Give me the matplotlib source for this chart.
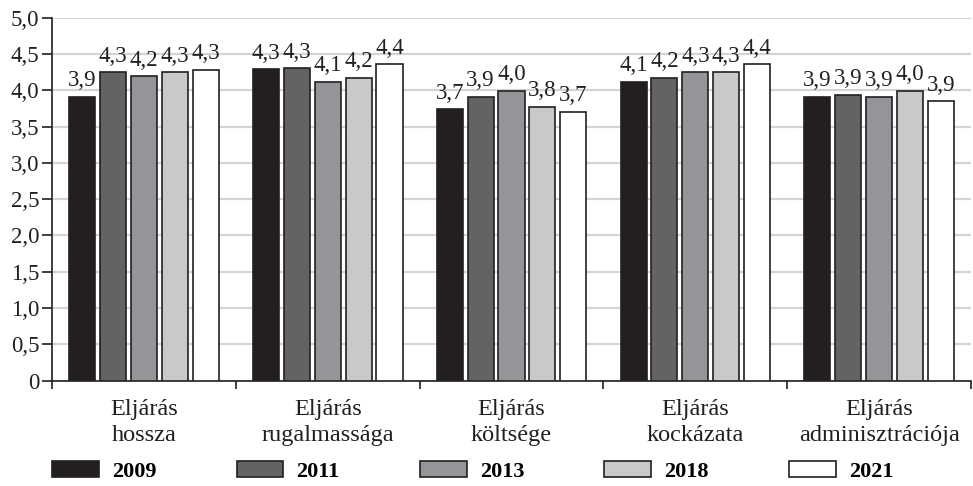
import numpy as np
from matplotlib import pyplot as plt
from matplotlib.patches import Patch

plt.rcParams['font.family'] = ['Liberation Serif', 'DejaVu Serif']

categories = ['Eljárás\nhossza', 'Eljárás\nrugalmassága', 'Eljárás\nköltsége',
              'Eljárás\nkockázata', 'Eljárás\nadminisztrációja']
years = ['2009', '2011', '2013', '2018', '2021']
colors = ['#231f20', '#636365', '#939598', '#c8c9cb', '#ffffff']

# bar heights, labels as printed
v2009 = [3.91, 4.29, 3.74, 4.12, 3.91]
v2011 = [4.25, 4.30, 3.91, 4.17, 3.94]
v2013 = [4.19, 4.12, 3.99, 4.25, 3.91]
v2018 = [4.25, 4.17, 3.77, 4.25, 3.99]
v2021 = [4.28, 4.36, 3.70, 4.36, 3.85]
l2009 = ['3,9', '4,3', '3,7', '4,1', '3,9']
l2011 = ['4,3', '4,3', '3,9', '4,2', '3,9']
l2013 = ['4,2', '4,1', '4,0', '4,3', '3,9']
l2018 = ['4,3', '4,2', '3,8', '4,3', '4,0']
l2021 = ['4,3', '4,4', '3,7', '4,4', '3,9']

series = [v2009, v2011, v2013, v2018, v2021]
labels = [l2009, l2011, l2013, l2018, l2021]

fig = plt.figure(figsize=(9.73, 4.86), dpi=100)
ax = fig.add_axes([0.0534, 0.2167, 0.9446, 0.747])

x = np.arange(len(categories))
step = 0.168
width = 0.142
for i, (vals, labs) in enumerate(zip(series, labels)):
    bars = ax.bar(x + (i - 2) * step, vals, width, color=colors[i],
                  edgecolor='#231f20', linewidth=1.2, zorder=3)
    ax.bar_label(bars, labels=labs, padding=4, fontsize=16.5, color='#231f20')

ax.set_xlim(-0.5, len(categories) - 0.5)
ax.set_ylim(0, 5)
ax.set_yticks(np.arange(0, 5.01, 0.5))
ax.set_yticklabels(['0'] + [f'{t:.1f}'.replace('.', ',') for t in np.arange(0.5, 5.01, 0.5)])
ax.yaxis.grid(True, color='#d4d4d4', linewidth=1.6, zorder=0)
ax.set_axisbelow(True)

ax.set_xticks(x)
ax.set_xticklabels(categories, linespacing=1.3)
ax.set_xticks(np.arange(-0.5, len(categories)), minor=True)
ax.tick_params(axis='x', which='major', length=0, pad=13, labelsize=17.5, colors='#231f20')
ax.tick_params(axis='x', which='minor', length=6, width=1.2, color='#231f20')
ax.tick_params(axis='y', length=7, width=1.2, labelsize=16.5, colors='#231f20', pad=2)

for s in ['top', 'right']:
    ax.spines[s].set_visible(False)
for s in ['left', 'bottom']:
    ax.spines[s].set_color('#231f20')
    ax.spines[s].set_linewidth(1.2)

handles = [Patch(facecolor=c, edgecolor='#231f20', linewidth=1.2) for c in colors]
fig.legend(handles, years, loc='lower left', bbox_to_anchor=(0.033, -0.032), ncol=5,
           frameon=False, handlelength=2.1, handleheight=0.7, handletextpad=0.6,
           columnspacing=3.6, prop={'size': 16, 'weight': 'bold'})

fig.savefig('out.png', dpi=100)
